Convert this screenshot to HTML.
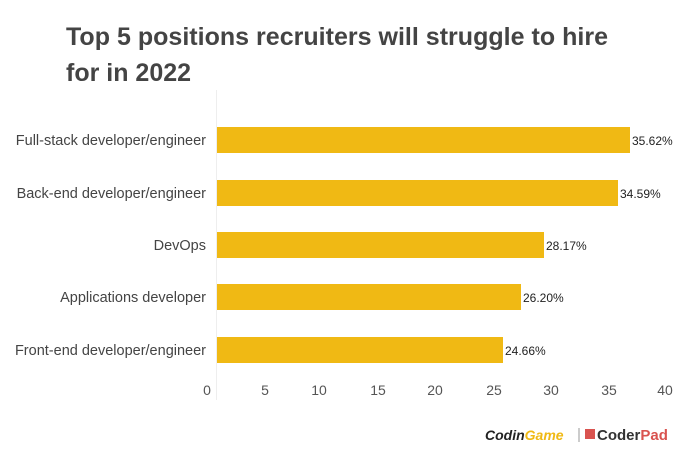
<!DOCTYPE html>
<html><head><style>
body{margin:0;background:#fff;}
svg text{font-family:"Liberation Sans",sans-serif;}
</style></head><body>
<svg width="700" height="464" xmlns="http://www.w3.org/2000/svg">
<rect width="700" height="464" fill="#fff"/>
<text x="66" y="45" font-size="25" font-weight="bold" fill="#444" textLength="542">Top 5 positions recruiters will struggle to hire</text>
<text x="66" y="81" font-size="25" font-weight="bold" fill="#444">for in 2022</text>
<line x1="216.5" y1="90" x2="216.5" y2="400" stroke="#eee" stroke-width="1"/>
<g fill="#f0b914">
<rect x="217" y="127" width="413" height="26"/>
<rect x="217" y="180" width="401" height="26"/>
<rect x="217" y="232" width="327" height="26"/>
<rect x="217" y="284" width="304" height="26"/>
<rect x="217" y="337" width="286" height="26"/>
</g>
<g font-size="14.5" fill="#444" text-anchor="end">
<text x="206" y="145">Full-stack developer/engineer</text>
<text x="206" y="198">Back-end developer/engineer</text>
<text x="206" y="250">DevOps</text>
<text x="206" y="302">Applications developer</text>
<text x="206" y="355">Front-end developer/engineer</text>
</g>
<g font-size="12" fill="#222">
<text x="632" y="145">35.62%</text>
<text x="620" y="198">34.59%</text>
<text x="546" y="250">28.17%</text>
<text x="523" y="302">26.20%</text>
<text x="505" y="355">24.66%</text>
</g>
<g font-size="14" fill="#555" text-anchor="middle">
<text x="207" y="395">0</text><text x="265" y="395">5</text><text x="319" y="395">10</text>
<text x="378" y="395">15</text><text x="435" y="395">20</text><text x="494" y="395">25</text>
<text x="551" y="395">30</text><text x="609" y="395">35</text><text x="665" y="395">40</text>
</g>
<text x="485" y="440" font-size="14" font-weight="bold" font-style="italic" fill="#222">Codin<tspan fill="#f0b914">Game</tspan></text>
<line x1="579" y1="428" x2="579" y2="442" stroke="#999"/>
<rect x="585" y="429" width="10" height="10" fill="#d9534f"/>
<text x="597" y="440" font-size="15" font-weight="bold" fill="#333">Coder<tspan fill="#d9534f">Pad</tspan></text>
</svg>
</body></html>
